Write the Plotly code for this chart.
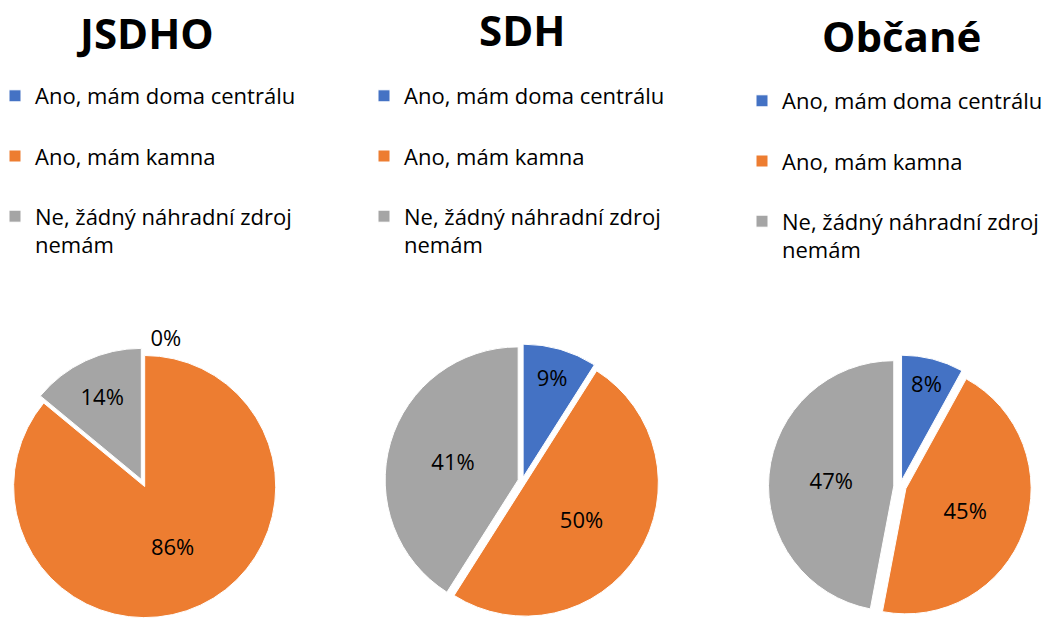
import plotly.graph_objects as go

# ---- data ----
categories = ["Ano, mám doma centrálu", "Ano, mám kamna", "Ne, žádný náhradní zdroj nemám"]
legend_labels = ["Ano, mám doma centrálu<br> ", "Ano, mám kamna<br> ", "Ne, žádný náhradní zdroj<br>nemám"]
groups = ["JSDHO", "SDH", "Občané"]
jsdho_values = [0, 86, 14]
sdh_values = [9, 50, 41]
obcane_values = [8, 45, 47]
colors = ["#4472C4", "#ED7D31", "#A5A5A5"]

W, H = 1056, 618
FONT = "Open Sans"


def px_dom(x0, x1, y0, y1):
    # pixel box (from top-left) -> paper domain
    return dict(x=[max(x0, 0) / W, min(x1, W) / W], y=[1 - min(y1, H) / H, 1 - max(y0, 0) / H])


def sx(x):
    return x / W


def sy(y):
    return 1 - y / H


series = [
    (groups[0], jsdho_values, [0.0, 0.03, 0.03], px_dom(7.6, 278.4, 348, 618), "legend",
     ["outside", "inside", "inside"]),
    (groups[1], sdh_values, [0.03, 0.03, 0.03], px_dom(385, 659, 344, 618), "legend2",
     ["inside", "inside", "inside"]),
    (groups[2], obcane_values, [0.05, 0.05, 0.05], px_dom(768, 1032, 355, 618), "legend3",
     ["inside", "inside", "inside"]),
]

fig = go.Figure()
for i, (name, vals, pull, dom, leg, tpos) in enumerate(series):
    fig.add_trace(go.Pie(
        labels=legend_labels,
        values=vals,
        name=name,
        sort=False,
        direction="clockwise",
        rotation=0,
        pull=pull,
        domain=dom,
        marker=dict(colors=colors, line=dict(color="white", width=1)),
        texttemplate="%{percent:.0%}",
        textposition=tpos,
        insidetextorientation="horizontal",
        textfont=dict(family=FONT, size=22, color="#000000"),
        legend=leg,
        legendgroup="g%d" % i,
        showlegend=True,
        hoverinfo="label+percent",
    ))

leg_common = dict(
    font=dict(family=FONT, size=22, color="#000000"),
    bgcolor="rgba(0,0,0,0)",
    xanchor="left",
    yanchor="top",
    valign="top",
    tracegroupgap=0,
)

title_font = dict(family=FONT, size=42, color="#000000")

fig.update_layout(
    width=W,
    height=H,
    margin=dict(l=0, r=0, t=0, b=0, autoexpand=False),
    paper_bgcolor="white",
    plot_bgcolor="white",
    legend=dict(x=sx(-5), y=sy(75), **leg_common),
    legend2=dict(x=sx(364), y=sy(75), **leg_common),
    legend3=dict(x=sx(742), y=sy(80), **leg_common),
    annotations=[
        dict(text="<b>%s</b>" % groups[0], x=sx(145), y=sy(33), xref="paper", yref="paper",
             showarrow=False, font=title_font, xanchor="center", yanchor="middle"),
        dict(text="<b>%s</b>" % groups[1], x=sx(522), y=sy(30), xref="paper", yref="paper",
             showarrow=False, font=title_font, xanchor="center", yanchor="middle"),
        dict(text="<b>%s</b>" % groups[2], x=sx(901), y=sy(36), xref="paper", yref="paper",
             showarrow=False, font=title_font, xanchor="center", yanchor="middle"),
    ],
)

fig.write_html("out.html", config={"displayModeBar": False},
               post_script="document.body.style.margin='0px';")
